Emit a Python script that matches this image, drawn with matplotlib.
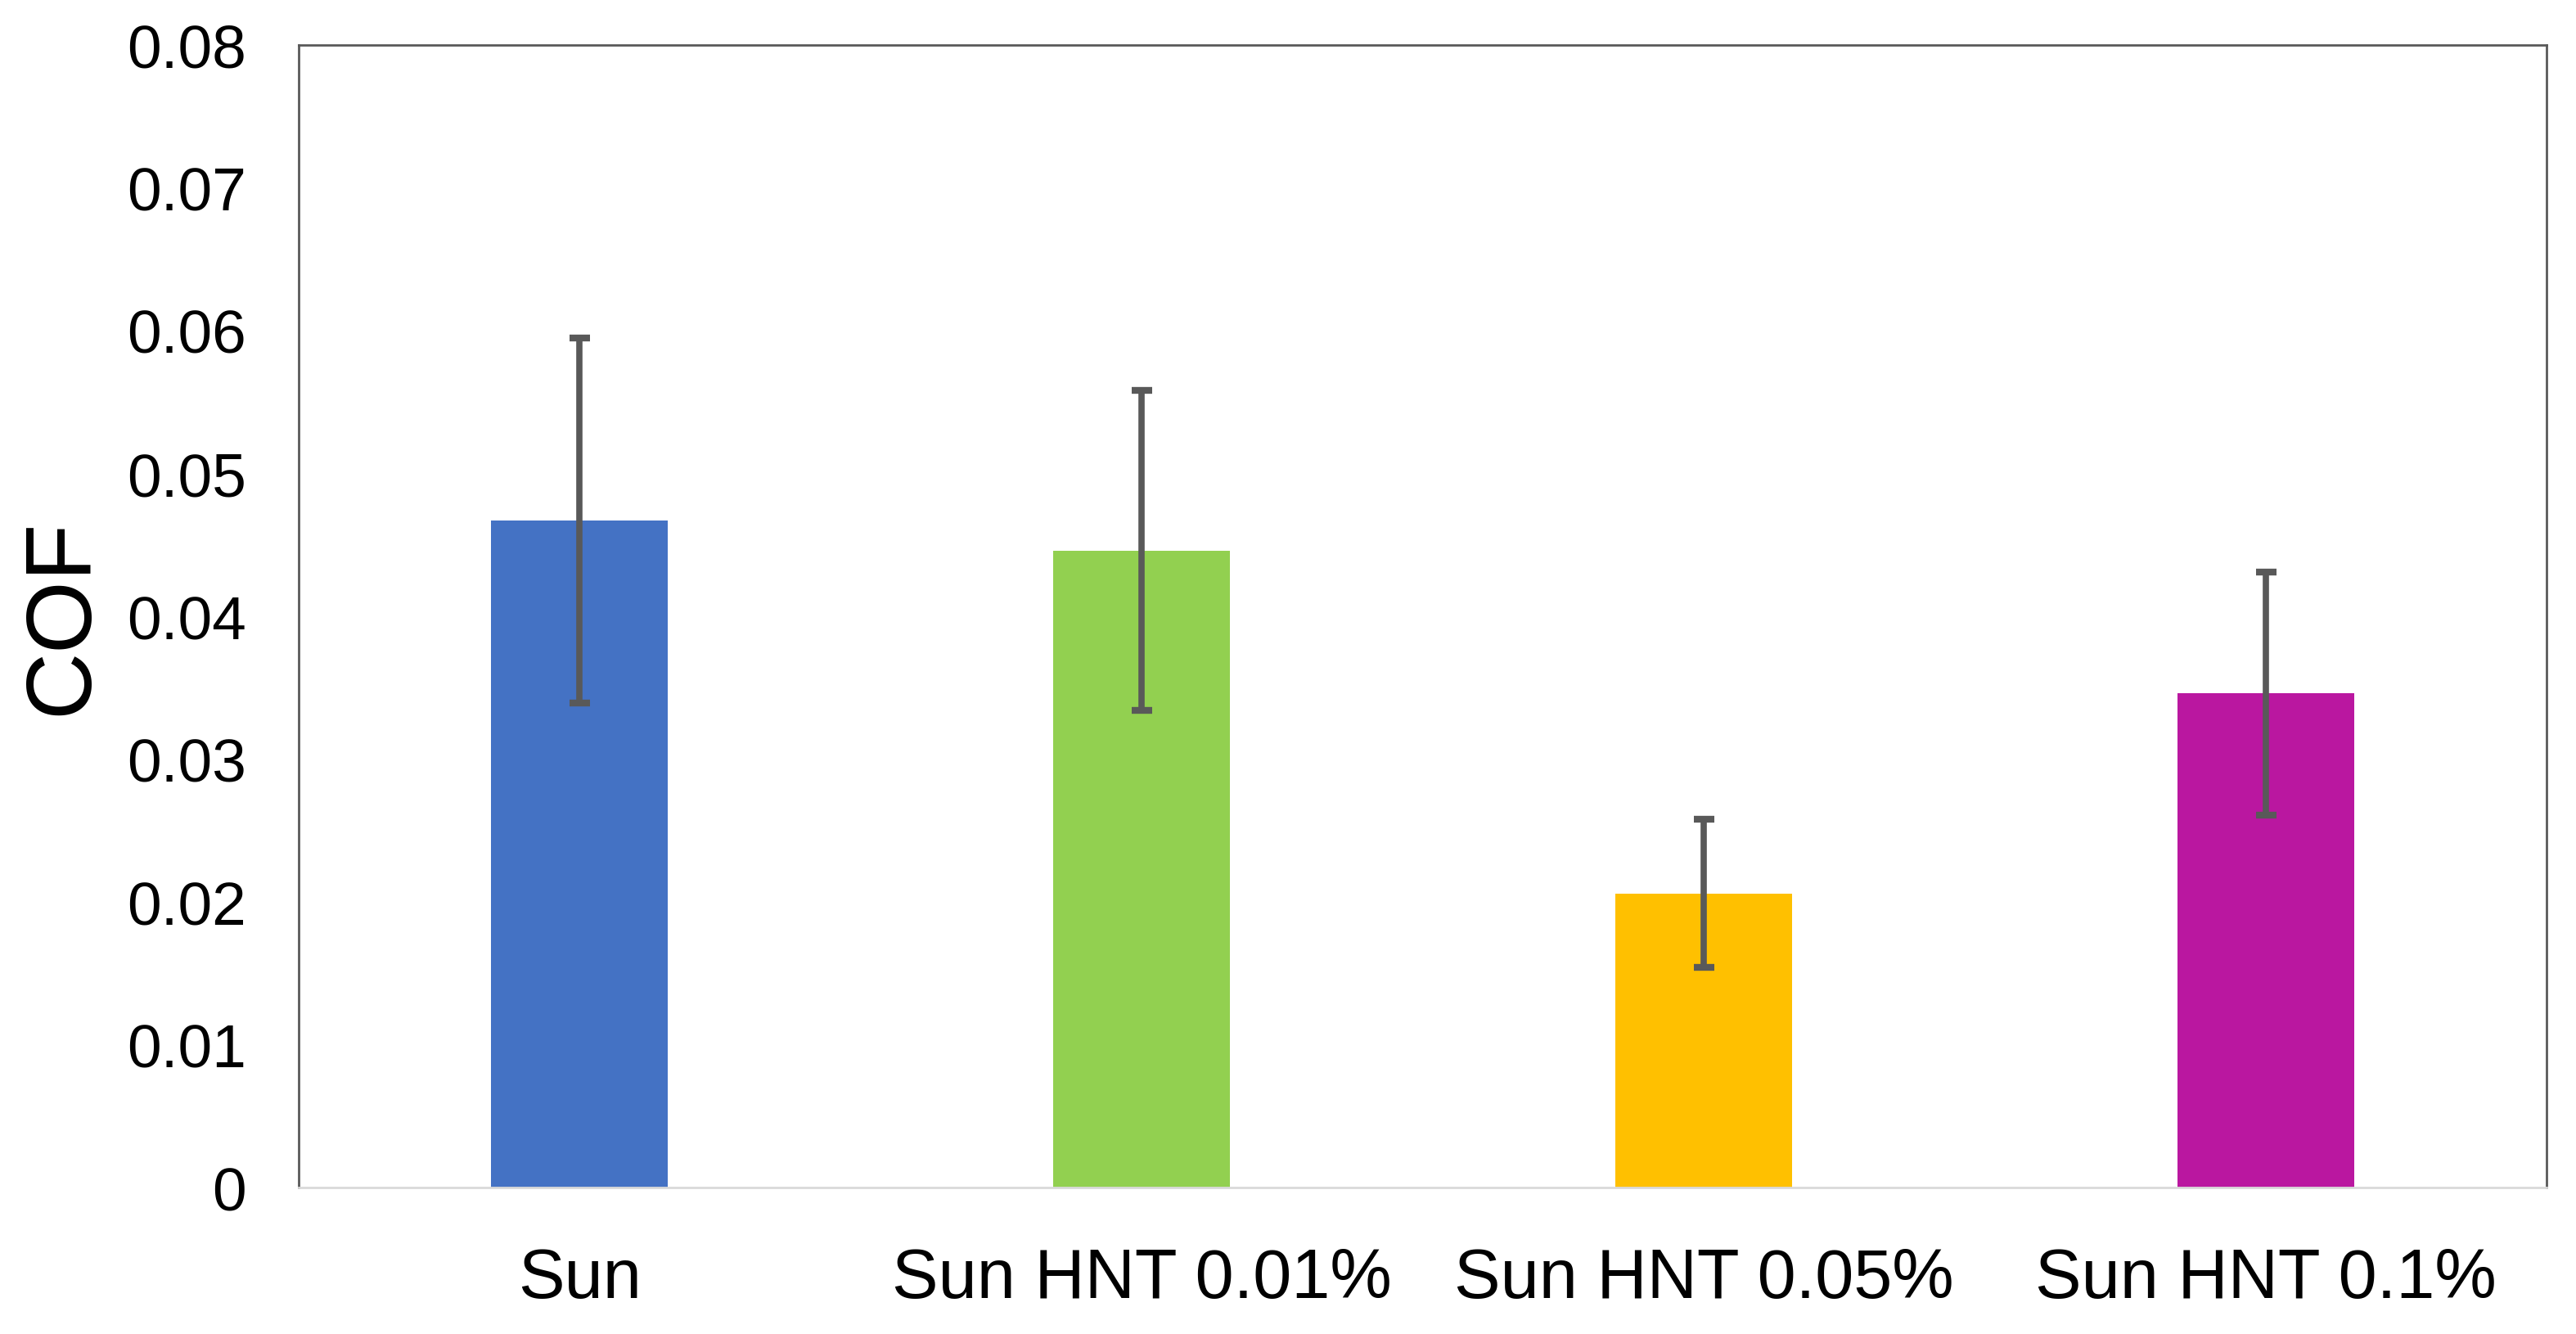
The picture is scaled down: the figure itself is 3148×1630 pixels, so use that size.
import matplotlib
matplotlib.use("Agg")
import matplotlib.pyplot as plt
import numpy as np

categories = ["Sun", "Sun HNT 0.01%", "Sun HNT 0.05%", "Sun HNT 0.1%"]
cof_mean = [0.0467, 0.0446, 0.0206, 0.0346]
cof_err = [0.0128, 0.0112, 0.0052, 0.0085]
bar_colors = ["#4472C4", "#92D050", "#FFC000", "#BA17A0"]
yticks = [0, 0.01, 0.02, 0.03, 0.04, 0.05, 0.06, 0.07, 0.08]
ytick_labels = ["0", "0.01", "0.02", "0.03", "0.04", "0.05", "0.06", "0.07", "0.08"]

plt.rcParams['font.family'] = ['Liberation Sans', 'DejaVu Sans']

fig = plt.figure(figsize=(31.48, 16.31), dpi=100)
ax = fig.add_axes([0.1159, 0.1097, 0.9886 - 0.1159, 0.9657 - 0.1097])

x = np.arange(len(categories))
ax.bar(x, cof_mean, width=0.315, color=bar_colors, zorder=2)
ax.errorbar(x, cof_mean, yerr=cof_err, fmt='none', ecolor='#595959',
            elinewidth=5.5, capsize=9, capthick=6, zorder=3)

ax.set_xlim(-0.5, len(categories) - 0.5)
ax.set_ylim(0, 0.08)
ax.set_yticks(yticks)
ax.set_yticklabels(ytick_labels)
ax.set_xticks(x)
ax.set_xticklabels(categories)
ax.tick_params(axis='y', length=0, pad=46, labelsize=54)
ax.tick_params(axis='x', length=0, pad=52, labelsize=61)
for lbl in ax.get_xticklabels():
    lbl.set_fontstretch('expanded')
ax.set_ylabel("COF", fontsize=82, labelpad=18)

for s in ['left', 'top', 'right']:
    ax.spines[s].set_color('#595959')
    ax.spines[s].set_linewidth(2)
ax.spines['bottom'].set_color('#D9D9D9')
ax.spines['bottom'].set_linewidth(2)

fig.savefig("out.png", dpi=100)
